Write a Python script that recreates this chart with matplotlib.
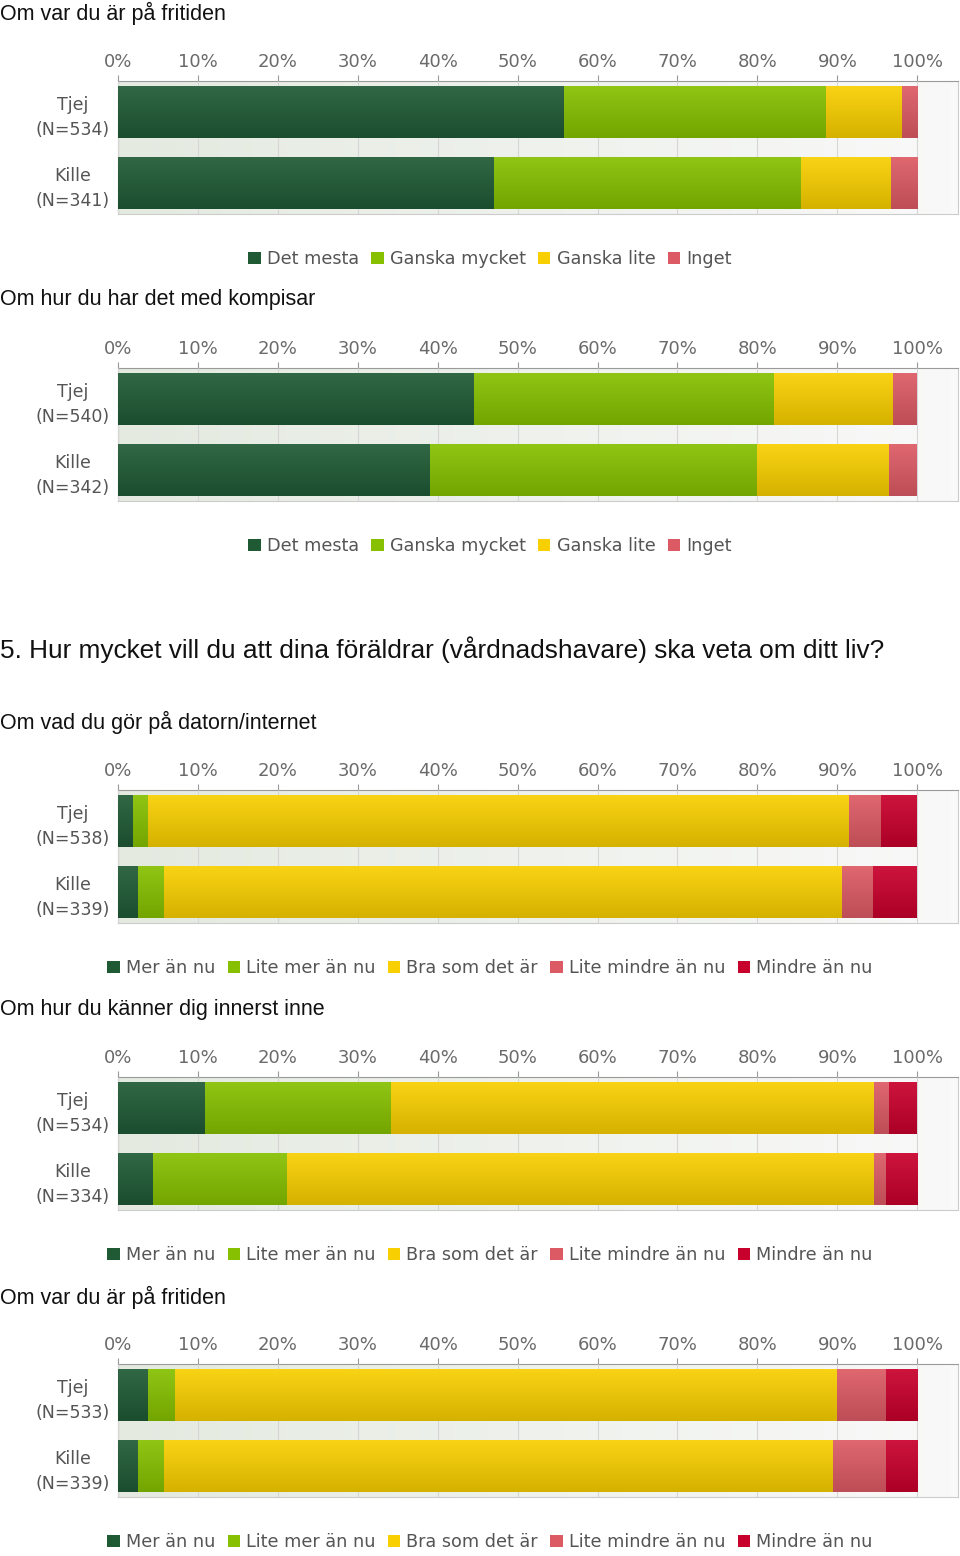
import numpy as np
import matplotlib
matplotlib.use("Agg")
import matplotlib.pyplot as plt
import matplotlib.colors as mcolors
from matplotlib.patches import Patch

# Data (percent)
groups = ["Tjej", "Kille"]

titles = [
    "Om var du är på fritiden",
    "Om hur du har det med kompisar",
    "Om vad du gör på datorn/internet",
    "Om hur du känner dig innerst inne",
    "Om var du är på fritiden",
]
n_values = [
    [534, 341],
    [540, 342],
    [538, 339],
    [534, 334],
    [533, 339],
]

labels_a = ["Det mesta", "Ganska mycket", "Ganska lite", "Inget"]
labels_b = ["Mer än nu", "Lite mer än nu", "Bra som det är", "Lite mindre än nu", "Mindre än nu"]

# each chart: one list per category, values for [Tjej, Kille]
chart1 = [[55.8, 47.1], [32.8, 38.4], [9.5, 11.2], [1.9, 3.3]]
chart2 = [[44.6, 39.0], [37.5, 41.0], [14.9, 16.5], [3.0, 3.5]]
chart3 = [[1.9, 2.5], [1.9, 3.3], [87.7, 84.8], [4.0, 3.9], [4.5, 5.5]]
chart4 = [[10.9, 4.4], [23.3, 16.8], [60.4, 73.4], [1.9, 1.5], [3.5, 3.9]]
chart5 = [[3.8, 2.5], [3.3, 3.3], [82.8, 83.6], [6.2, 6.7], [3.9, 3.9]]

heading = "5. Hur mycket vill du att dina föräldrar (vårdnadshavare) ska veta om ditt liv?"

colors_a = ["#1f5a35", "#86c000", "#f8cf00", "#dc5a64"]
colors_b = ["#1f5a35", "#86c000", "#f8cf00", "#dc5a64", "#c8002c"]

charts = [
    (chart1, labels_a, colors_a),
    (chart2, labels_a, colors_a),
    (chart3, labels_b, colors_b),
    (chart4, labels_b, colors_b),
    (chart5, labels_b, colors_b),
]

# pixel layout
W, H = 960, 1556
ax_tops = [81, 368, 790, 1077, 1364]
title_ys = [13, 300, 722, 1009, 1297]
legend_ys = [259, 546, 968, 1255, 1542]

fig = plt.figure(figsize=(W / 100, H / 100), dpi=100)
fig.patch.set_facecolor("white")


def shade(c, f):
    c = np.array(mcolors.to_rgb(c))
    if f > 1:
        return np.clip(c + (1 - c) * (f - 1), 0, 1)
    return c * f


def gradient_bar(ax, patch, color):
    x, y = patch.get_x(), patch.get_y()
    w, h = patch.get_width(), patch.get_height()
    top = shade(color, 1.08)
    bot = shade(color, 0.86)
    t = np.linspace(0, 1, 60)[:, None, None]
    img = top * (1 - t) + bot * t
    ax.imshow(img, extent=(x, x + w, y + h, y), aspect="auto",
              origin="upper", zorder=3, interpolation="bilinear")


for i, (data, labels, colors) in enumerate(charts):
    top = ax_tops[i]
    ax = fig.add_axes([118 / W, 1 - (top + 133) / H, 840 / W, 133 / H])

    # background gradient
    bg = np.array([mcolors.to_rgb("#e4eae0"), mcolors.to_rgb("#f9f9f9")])
    bg_img = np.linspace(bg[0], bg[1], 100)[None, :, :]
    ax.imshow(bg_img, extent=(0, 105.1, 1.437, -0.437), aspect="auto", zorder=0)

    y = np.arange(len(groups))
    left = np.zeros(len(groups))
    for vals, col in zip(data, colors):
        bars = ax.barh(y, vals, left=left, height=0.72, color=col, zorder=2)
        for p in bars.patches:
            gradient_bar(ax, p, col)
        left = left + np.array(vals)

    ax.set_xlim(0, 105.1)
    ax.set_ylim(1.437, -0.437)
    ax.set_xticks(np.arange(0, 101, 10))
    ax.set_xticklabels([f"{v}%" for v in range(0, 101, 10)])
    ax.xaxis.tick_top()
    ax.tick_params(axis="x", direction="out", length=4, color="#999999",
                   labelsize=13, labelcolor="#6a6a6a", pad=3)
    ax.set_yticks(y)
    ax.set_yticklabels([f"{g}\n(N={n})" for g, n in zip(groups, n_values[i])],
                       multialignment="center", linespacing=1.5)
    ax.tick_params(axis="y", length=0, labelsize=12.5, labelcolor="#555555", pad=6)
    for lab in ax.get_yticklabels():
        lab.set_horizontalalignment("right")
    ax.grid(axis="x", color="#d6d6d6", linewidth=0.8, zorder=1)
    ax.set_axisbelow(False)
    for side in ["top", "left"]:
        ax.spines[side].set_color("#9a9a9a")
    for side in ["right", "bottom"]:
        ax.spines[side].set_color("#cccccc")

    fig.text(0, 1 - title_ys[i] / H, titles[i], fontsize=15.5, family="Liberation Sans",
             va="center", ha="left", color="#111111")

    handles = [Patch(facecolor=c, edgecolor="none") for c in colors]
    fig.legend(handles, labels, loc="center", ncol=len(labels),
               bbox_to_anchor=(490 / W, 1 - legend_ys[i] / H), frameon=False,
               handlelength=0.7, handleheight=0.7, handletextpad=0.35,
               columnspacing=0.7, prop={"family": "DejaVu Sans", "size": 12.7},
               labelcolor="#555555")

fig.text(0, 1 - 650 / H, heading, fontsize=18.9, family="Liberation Sans",
         va="center", ha="left", color="#111111")

fig.savefig("out.png", dpi=100)
